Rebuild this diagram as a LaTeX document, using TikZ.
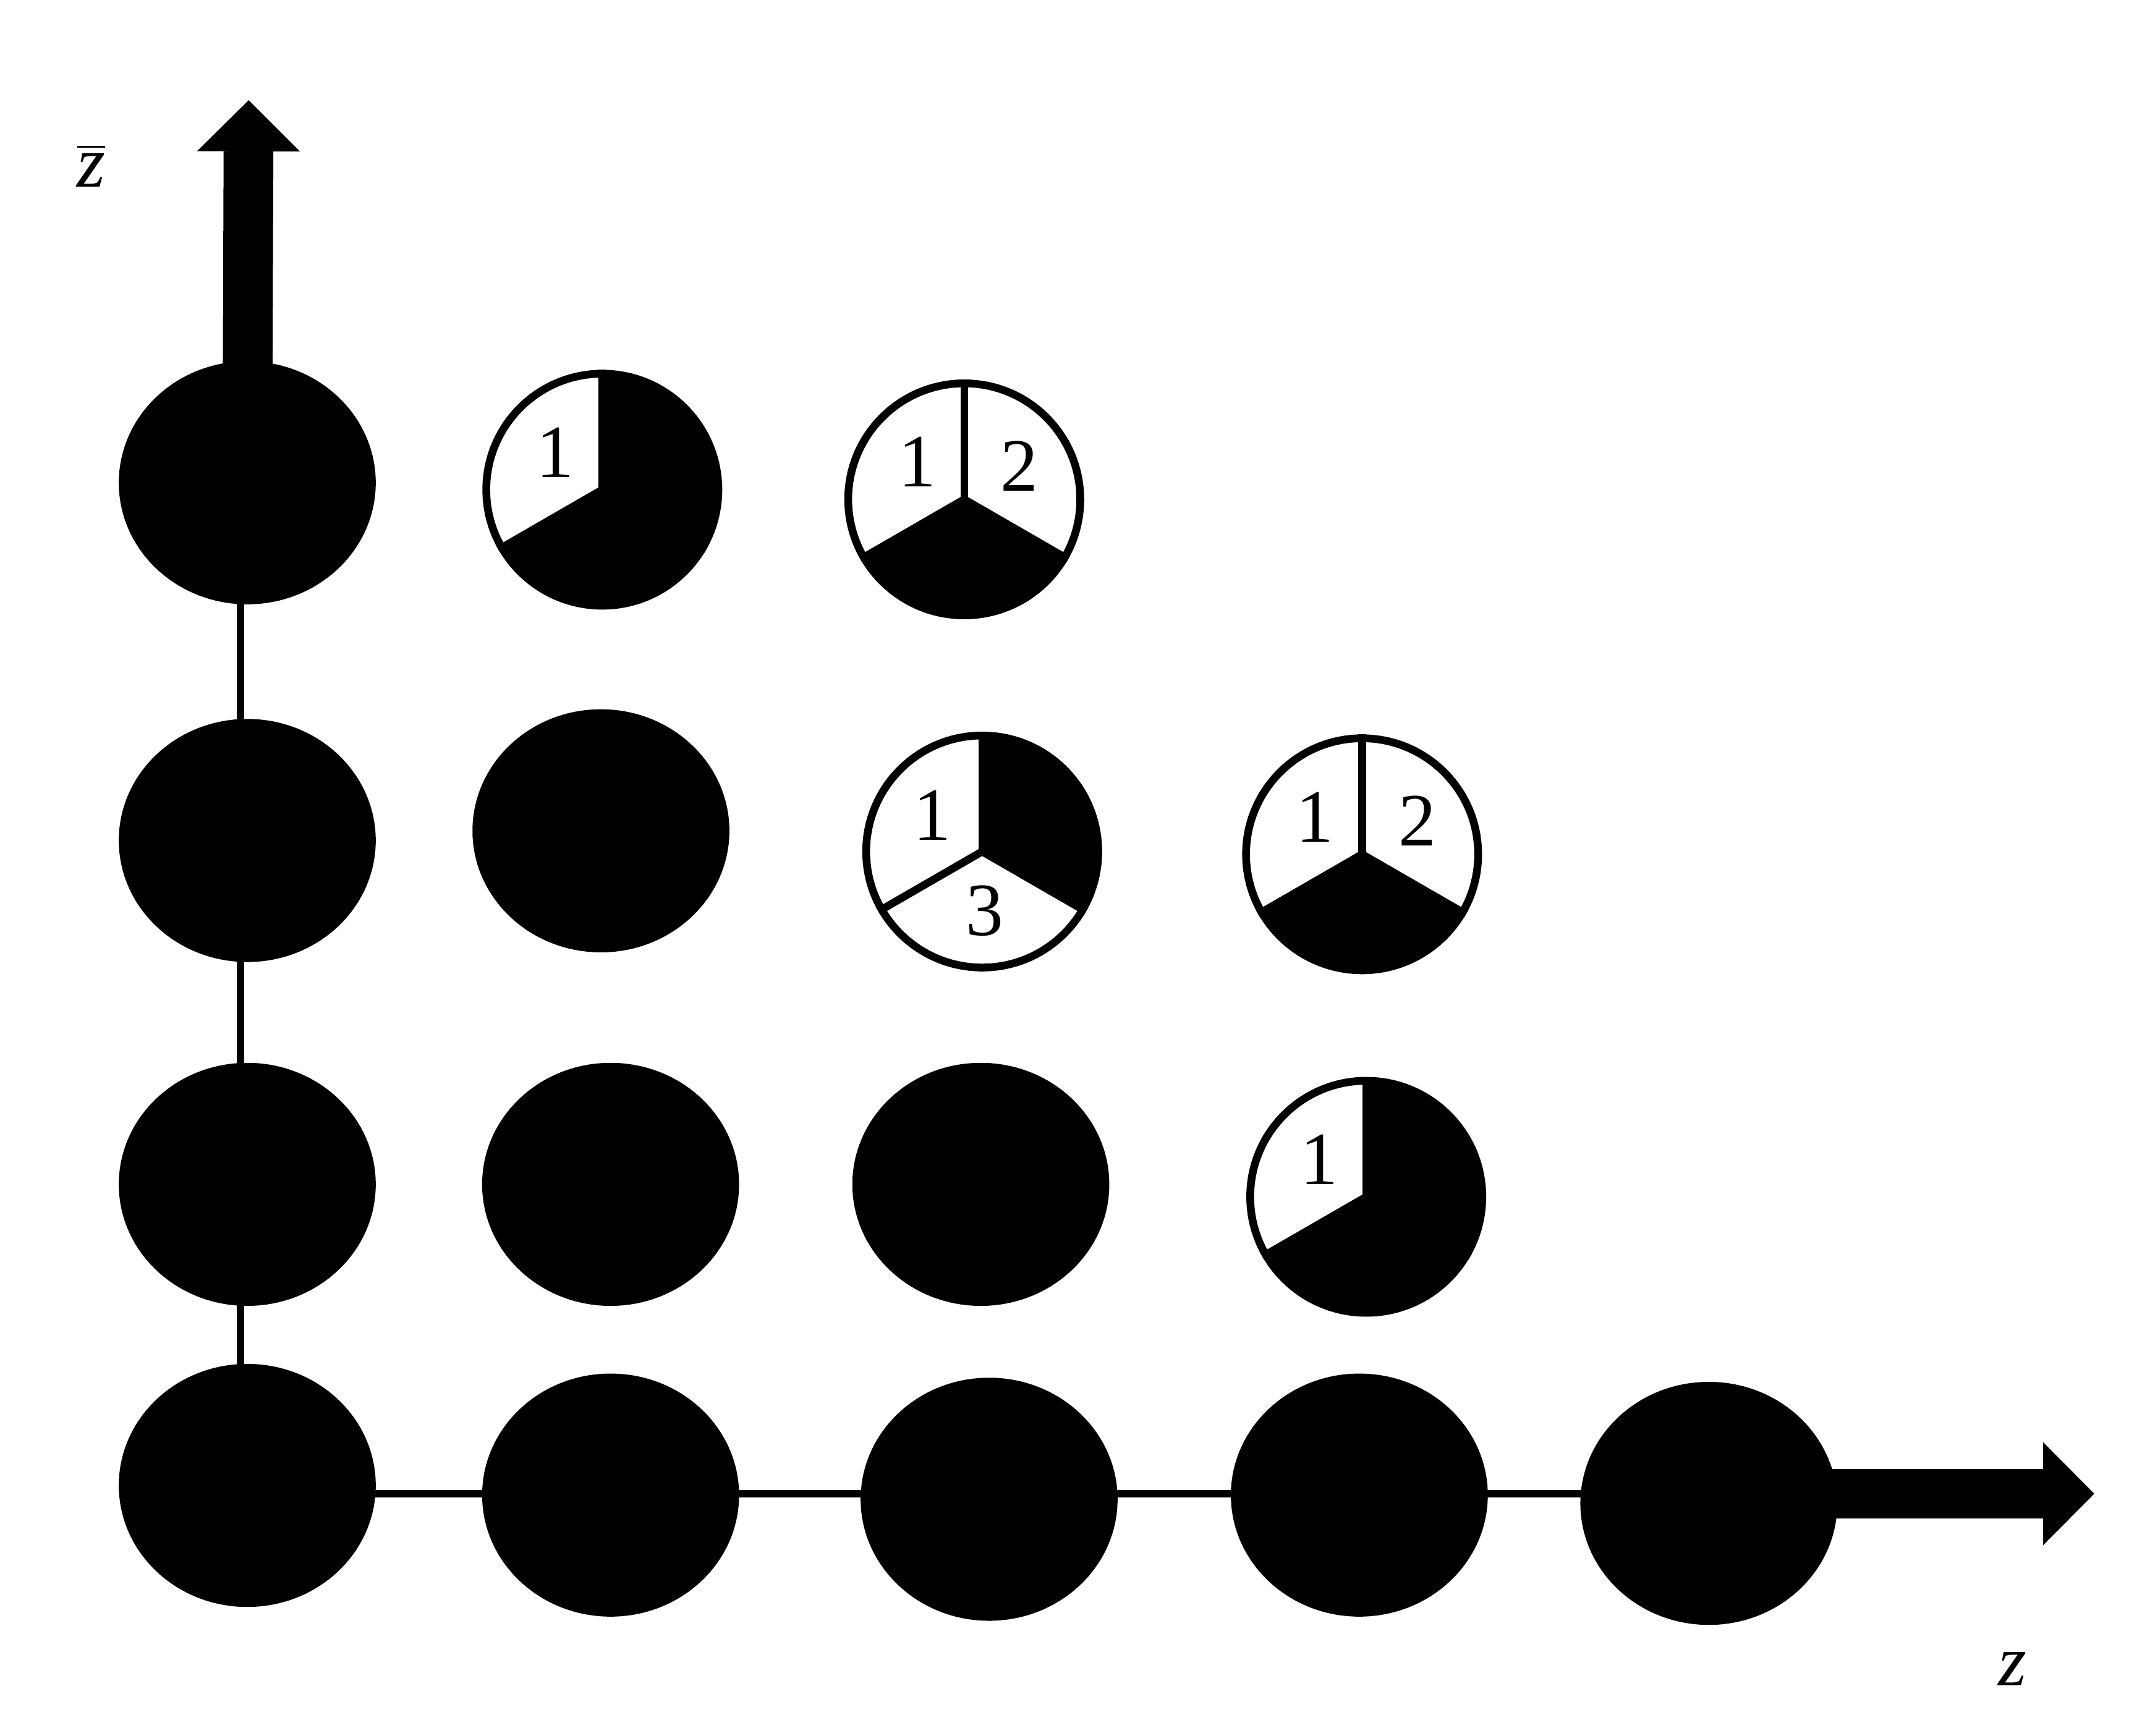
\documentclass[tikz,border=0pt]{standalone}
\usepackage{fontspec}
\setmainfont{Liberation Serif}
\usepackage{tikz}
\usetikzlibrary{calc,arrows.meta,shapes.geometric,positioning}
\tikzset{
  site/.style={ellipse, fill=black, inner sep=0pt, minimum width=1.86cm, minimum height=1.76cm},
  pie/.style={ellipse, draw=black, line width=1.6pt, inner sep=0pt, minimum width=1.68cm, minimum height=1.68cm},
  link/.style={draw=black, line width=1.6pt},
  axis/.style={draw=black, line width=3.6mm, -{Triangle[length=3.7mm, width=7.45mm, line width=0pt]}},
  num/.style={text=black, font=\fontsize{15.5}{17}\selectfont, inner sep=0pt},
  lab/.style={text=black, font=\fontsize{15}{17}\selectfont\itshape, inner sep=0pt, anchor=base},
}

\begin{document}
\begin{tikzpicture}
\useasboundingbox (0,0) rectangle (15.6,12.566);

% filled sites
\node[site] (b1) at (1.79,1.81) {};
\node[site] (b2) at (4.42,1.74) {};
\node[site] (b3) at (7.16,1.71) {};
\node[site] (b4) at (9.84,1.74) {};
\node[site] (b5) at (12.37,1.68) {};
\node[site] (c2) at (1.79,3.99) {};
\node[site] (c3) at (1.79,6.48) {};
\node[site] (c4) at (1.79,9.07) {};
\node[site] (m22) at (4.42,3.99) {};
\node[site] (m32) at (7.10,3.99) {};
\node[site] (m23) at (4.35,6.55) {};

% partly filled sites
\node[pie] (p1) at (4.36,9.02) {};
\node[pie] (p2) at (6.98,8.95) {};
\node[pie] (p3) at (7.11,6.40) {};
\node[pie] (p4) at (9.86,6.38) {};
\node[pie] (p5) at (9.89,3.90) {};
\foreach \p/\s/\e in {p1/210/450, p2/210/330, p3/-30/90, p4/210/330, p5/210/450}
  \fill (\p.center) -- +(\s:0.84) arc[start angle=\s, end angle=\e, radius=0.84] -- cycle;
\foreach \p in {p1,p2,p3,p4,p5}
  \foreach \a in {90,210,330}
    \draw[link] (\p.center) -- (\p.\a);

\node[num] (p1a) at ($(p1)+(-0.34,0.27)$) {1};
\node[num] (p2a) at ($(p2)+(-0.34,0.27)$) {1};
\node[num] (p2b) at ($(p2)+(0.40,0.24)$) {2};
\node[num] (p3a) at ($(p3)+(-0.36,0.26)$) {1};
\node[num] (p3c) at ($(p3)+(0.02,-0.43)$) {3};
\node[num] (p4a) at ($(p4)+(-0.34,0.27)$) {1};
\node[num] (p4b) at ($(p4)+(0.40,0.24)$) {2};
\node[num] (p5a) at ($(p5)+(-0.34,0.27)$) {1};

% axes
\coordinate (ztip) at (15.16,1.75);
\coordinate (zbtip) at (1.80,11.84);

% links along the axes
\draw[link] (b1.center |- ztip) -- (b5.center |- ztip);
\draw[link] ([xshift=-0.5mm]b1.center) -- ([xshift=-0.5mm]c4.center);

\draw[axis] (b5.center |- ztip) -- (ztip);
\draw[axis] (c4.center) -- (zbtip);
\node[lab] (zlab) at (14.57,0.36) {z};
\node[lab] (zbarlab) at (0.66,11.21) {$\overline{\textit{z}}$};
\end{tikzpicture}
\end{document}
